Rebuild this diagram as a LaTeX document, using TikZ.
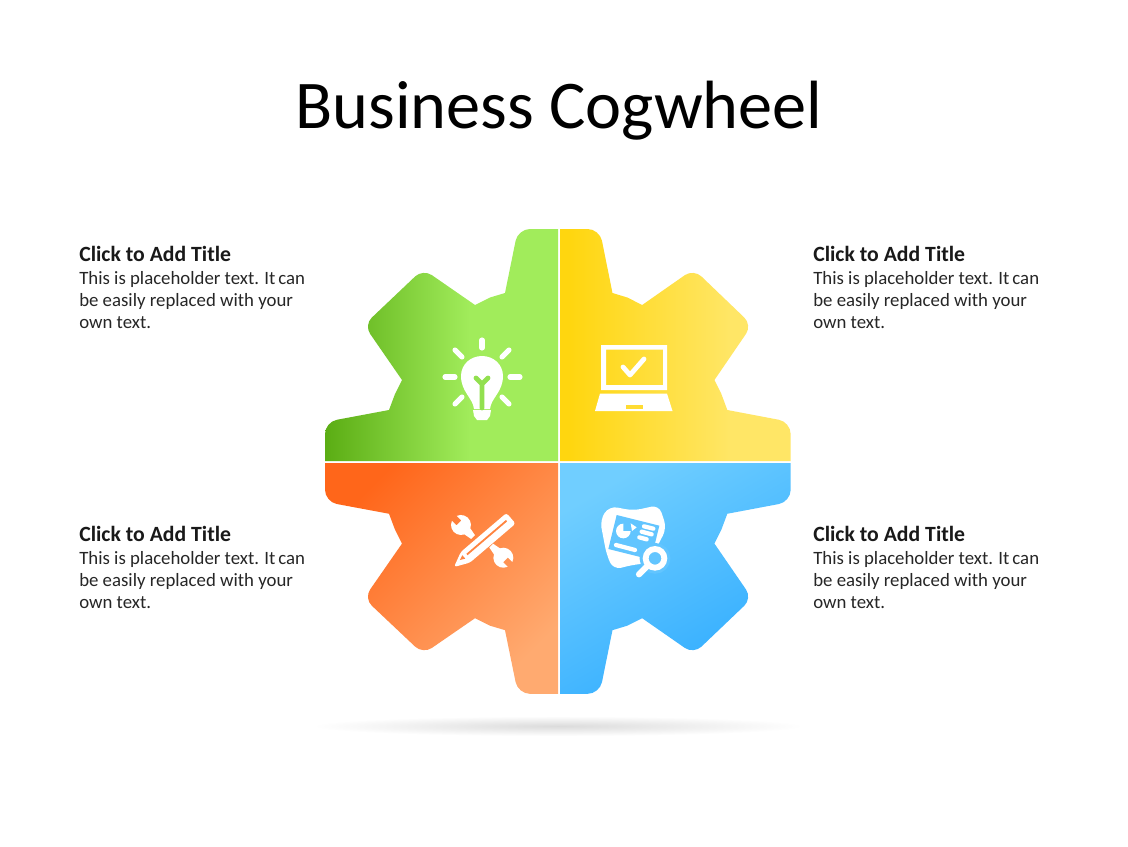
\documentclass[tikz,border=0pt]{standalone}
\usepackage{fontspec}
\setmainfont{Carlito}
\definecolor{greenL}{HTML}{5BAD14}
\definecolor{greenR}{HTML}{A1EC5B}
\definecolor{greenM}{HTML}{92E04F}
\definecolor{yellowL}{HTML}{FFD60F}
\definecolor{yellowR}{HTML}{FFE666}
\definecolor{yellowM}{HTML}{FFDC33}
\definecolor{orangeA}{HTML}{FF661A}
\definecolor{orangeB}{HTML}{FFAA70}
\definecolor{orangeM}{HTML}{FF8440}
\definecolor{blueA}{HTML}{70CEFF}
\definecolor{blueB}{HTML}{30ACFF}
\definecolor{blueM}{HTML}{62C5FF}
\pgfdeclarehorizontalshading{greenfade}{100bp}{color(0bp)=(greenL); color(25bp)=(greenL); color(56bp)=(greenR); color(100bp)=(greenR)}
\pgfdeclarehorizontalshading{yellowfade}{100bp}{color(0bp)=(yellowL); color(27bp)=(yellowL); color(62bp)=(yellowR); color(100bp)=(yellowR)}
\tikzset{
	icon/.style={fill=white,draw=none},
	ray/.style={draw=white,line width=3.8pt,line cap=round},
	heading/.style={anchor=north west,inner sep=0pt,font=\fontsize{16.3}{16.5}\selectfont\bfseries,text=black!90},
	bodytext/.style={anchor=north west,inner sep=0pt,align=left,font=\fontsize{14.1}{16.5}\selectfont,text=black!85},
}
% one quarter of the wheel, counted from the centre
\newcommand{\gearpart}{
	(0,0) -- (0,232) [rounded corners=9] -- (40,232) [sharp corners] -- (53,168) -- (68,163.5) -- (83,156)
	[rounded corners=8] -- (135,192) -- (194,136) [sharp corners] -- (156,81) -- (163,67) -- (169,51)
	[rounded corners=9] -- (233,39) [sharp corners] -- (233,0) -- cycle
}
% wrench with its jaw towards -x
\newcommand{\wrench}{
	(160:10) arc[start angle=160,end angle=25,radius=10] -- (17,2.7) -- (17,-2.7) -- (9,-4.2)
	arc[start angle=-25,end angle=-160,radius=10] -- (-3,-3.4) -- (-3,3.4) -- cycle
}
\begin{document}
\begin{tikzpicture}[x=.75pt,y=-.75pt]
	\useasboundingbox (0,0) rectangle (1128,846);
	\fill[white] (0,0) rectangle (1128,846);
	%title
	\node (title) at (559,111) {\fontsize{51.2}{54}\selectfont Business Cogwheel};
	%shadow
	\shade[inner color=black!14,outer color=white] (558,726) ellipse [x radius=245,y radius=10];
	%wheel
	\begin{scope}[shift={(558,461)},xscale=-1,yscale=-1]
		\path[shading=greenfade,shading angle=0] \gearpart;
	\end{scope}
	\begin{scope}[shift={(560,461)},xscale=.99,yscale=-1]
		\path[shading=yellowfade,shading angle=0] \gearpart;
	\end{scope}
	\begin{scope}[shift={(558,463)},xscale=-1,yscale=.995]
		\path[top color=orangeA,bottom color=orangeB,shading angle=45] \gearpart;
	\end{scope}
	\begin{scope}[shift={(560,463)},xscale=.99,yscale=.995]
		\path[top color=blueA,bottom color=blueB,shading angle=30] \gearpart;
	\end{scope}
	%lamp
	\foreach \ax/\ay/\bx/\by in {482/340/482/348,445/377/455/377,510/377/520/377,
		455/350/462/357,509/350/502/357,455/404/462/397,509/404/502/397}
	\draw[ray] (\ax,\ay) -- (\bx,\by);
	\fill[icon] (474,409) .. controls (473,398) and (461,392) .. (461,376)
		.. controls (461,364) and (471,356) .. (482,356)
		.. controls (493,356) and (503,364) .. (503,376)
		.. controls (503,392) and (491,398) .. (490,409) -- cycle;
	\fill[icon] (473,410) -- (491,410) -- (490,416) -- (487,420) -- (477,420) -- (474,416) -- cycle;
	\draw[greenM,line width=3.6pt,line cap=round,line join=round] (476,378) -- (482,384) -- (488,378) (482,384) -- (482,408);
	%laptop
	\fill[icon,even odd rule] (601,345) rectangle (667,390) (606,349.5) rectangle (663,385);
	\fill[icon] (600,393.5) -- (667,393.5) -- (672.5,411) -- (595,411) -- cycle;
	\fill[yellowM] (626,405) rectangle (643,408.5);
	\draw[white,line width=3.6pt,line cap=round,line join=round] (623,367) -- (630,375) -- (644,359);
	%tools
	\begin{scope}[shift={(461,525)},rotate=-45]
		\fill[icon] \wrench;
	\end{scope}
	\begin{scope}[shift={(503.3,557.7)},rotate=135]
		\fill[icon] \wrench;
	\end{scope}
	\begin{scope}[shift={(454,567)},rotate=40.5]
		\fill[icon,rounded corners=2] (0,0) -- (15,-7) -- (75,-7) -- (75,7) -- (15,7) -- cycle;
		\fill[orangeM] (18,-2) -- (70,-2) -- (70,-.2) -- (18,-.2) -- cycle;
		\fill[orangeM] (9,-1.5) -- (14,-3.5) -- (14,1) -- cycle;
	\end{scope}
	%report
	\begin{scope}[shift={(590,495)},scale=1/3]
		\fill[icon,rounded corners=6] (58,33) -- (130,47) -- (207,30) -- (230,100) -- (175,205) -- (135,208) -- (70,224) -- (50,180) -- (30,75) -- cycle;
		\fill[blueM] (80,60) -- (208,92) -- (183,194) -- (55,162) -- cycle;
		\fill[icon] (100,108) -- (100,86) arc[start angle=-90,end angle=-360,radius=22] -- cycle;
		\fill[icon] (122,85) -- (140,97) -- (126,108) -- cycle;
		\draw[white,line width=3.2pt,line cap=round] (162,94) -- (190,101) (155,110) -- (185,118) (148,127) -- (170,133) (78,150) -- (135,165);
		\draw[blueM,line width=9pt] (195,190) circle[radius=28];
		\fill[blueM] (195,190) circle[radius=28];
		\draw[white,line width=4.4pt] (195,190) circle[radius=28];
		\draw[white,line width=4.6pt,line cap=round] (173,212) -- (147,238);
	\end{scope}
	%texts
	\foreach \name/\x/\y in {a/79/246,b/813/246,c/79/526,d/813/526}{
		\node[heading] (head\name) at (\x,\y) {Click to Add Title};
		\node[bodytext] (text\name) at (\x,\y+25) {This is placeholder text.\hspace{4pt}It\hspace{2.2pt}can\\be easily replaced with your\\own text.};
	}
\end{tikzpicture}
\end{document}
